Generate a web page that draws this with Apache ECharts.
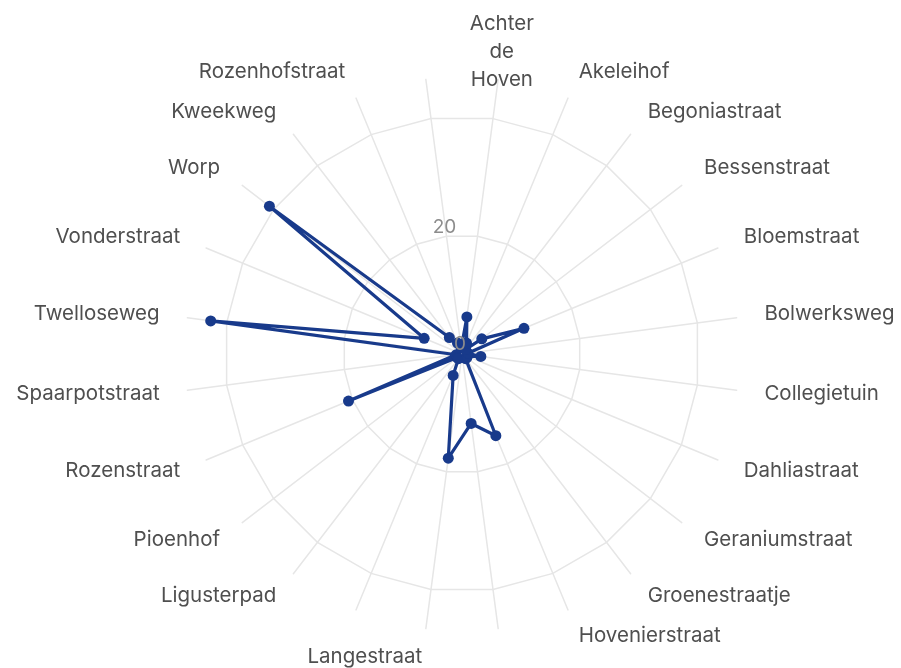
<!DOCTYPE html>
<html>
<head>
<meta charset="utf-8">
<script src="https://cdn.jsdelivr.net/npm/echarts@6/dist/echarts.min.js"></script>
<style>
  html, body { margin: 0; padding: 0; background: #fff; }
  #chart { width: 901px; height: 668px; }
</style>
</head>
<body>
<div id="chart"></div>
<script>
// Straten, met de klok mee vanaf boven (lege namen hebben geen label in het origineel)
const streets = [
  'Achter de Hoven', 'Akeleihof', 'Begoniastraat', 'Bessenstraat', 'Bloemstraat',
  'Bolwerksweg', 'Collegietuin', 'Dahliastraat', 'Geraniumstraat', 'Groenestraatje',
  'Hovenierstraat', '', 'Langestraat', '', 'Ligusterpad', 'Pioenhof', 'Rozenstraat',
  'Spaarpotstraat', 'Twelloseweg', 'Vonderstraat', 'Worp', 'Kweekweg', 'Rozenhofstraat', ''
];
const counts = [
  6.3, 2, 1, 4.2, 11.3,
  1, 3.2, 1, 1, 1,
  14.9, 11.8, 17.7, 3.9, 1, 1, 20.7,
  1, 42.7, 6.9, 40.9, 3.5, 2, 1
];
const radialTicks = [0, 20];

const MAX = 140 / 3;       // buitenrand van de spaken
const GRID = '#e6e6e6';
const NAVY = '#183a8b';

// radar tekent tegen de klok in: volgorde omdraaien
const order = streets.map((_, i) => (streets.length - i) % streets.length);
const indicators = order.map(i => {
  const ind = { name: streets[i], max: MAX, min: 0 };
  if (streets[i] === 'Achter de Hoven') ind.nameTextStyle = { align: 'center' };
  return ind;
});
const values = order.map(i => counts[i]);

// ringen alleen op 20 en 40 (stap 20/3)
const ringColors = [];
for (let i = 0; i <= 7; i++) ringColors.push(i === 3 || i === 6 ? GRID : 'rgba(0,0,0,0)');

const chart = echarts.init(document.getElementById('chart'), null, { renderer: 'canvas' });
chart.setOption({
  animation: false,
  textStyle: { fontFamily: 'Inter, "Noto Sans", sans-serif' },
  radar: {
    center: [462, 354],
    radius: 277,
    startAngle: 82.5,
    shape: 'polygon',
    splitNumber: 7,
    indicator: indicators,
    nameGap: 28,
    axisName: {
      color: '#4f4f4f',
      fontSize: 20.5,
      lineHeight: 28,
      fontFamily: 'Inter, "Noto Sans", sans-serif',
      formatter: n => n.split(' ').join('\n')
    },
    axisLine: { lineStyle: { color: GRID, width: 1.5 } },
    splitLine: { lineStyle: { color: ringColors, width: 1.5 } },
    splitArea: { show: false },
    axisTick: { show: false },
    axisLabel: { show: false }
  },
  polar: { center: [462, 354], radius: 277 },
  angleAxis: {
    type: 'value', min: 0, max: 360, startAngle: 97.5, show: false
  },
  radiusAxis: {
    type: 'value', min: 0, max: MAX, interval: 20, z: 10,
    axisLine: { show: false },
    axisTick: { show: false },
    splitLine: { show: false },
    axisLabel: {
      color: '#8c8c8c', fontSize: 19, margin: 2,
      align: 'center', verticalAlign: 'bottom',
      formatter: v => (radialTicks.indexOf(v) >= 0 ? String(v) : '')
    }
  },
  series: [{
    type: 'radar',
    symbol: 'circle',
    symbolSize: 11,
    lineStyle: { color: NAVY, width: 3.2 },
    itemStyle: { color: NAVY },
    data: [{ value: values }]
  }]
});
</script>
</body>
</html>
